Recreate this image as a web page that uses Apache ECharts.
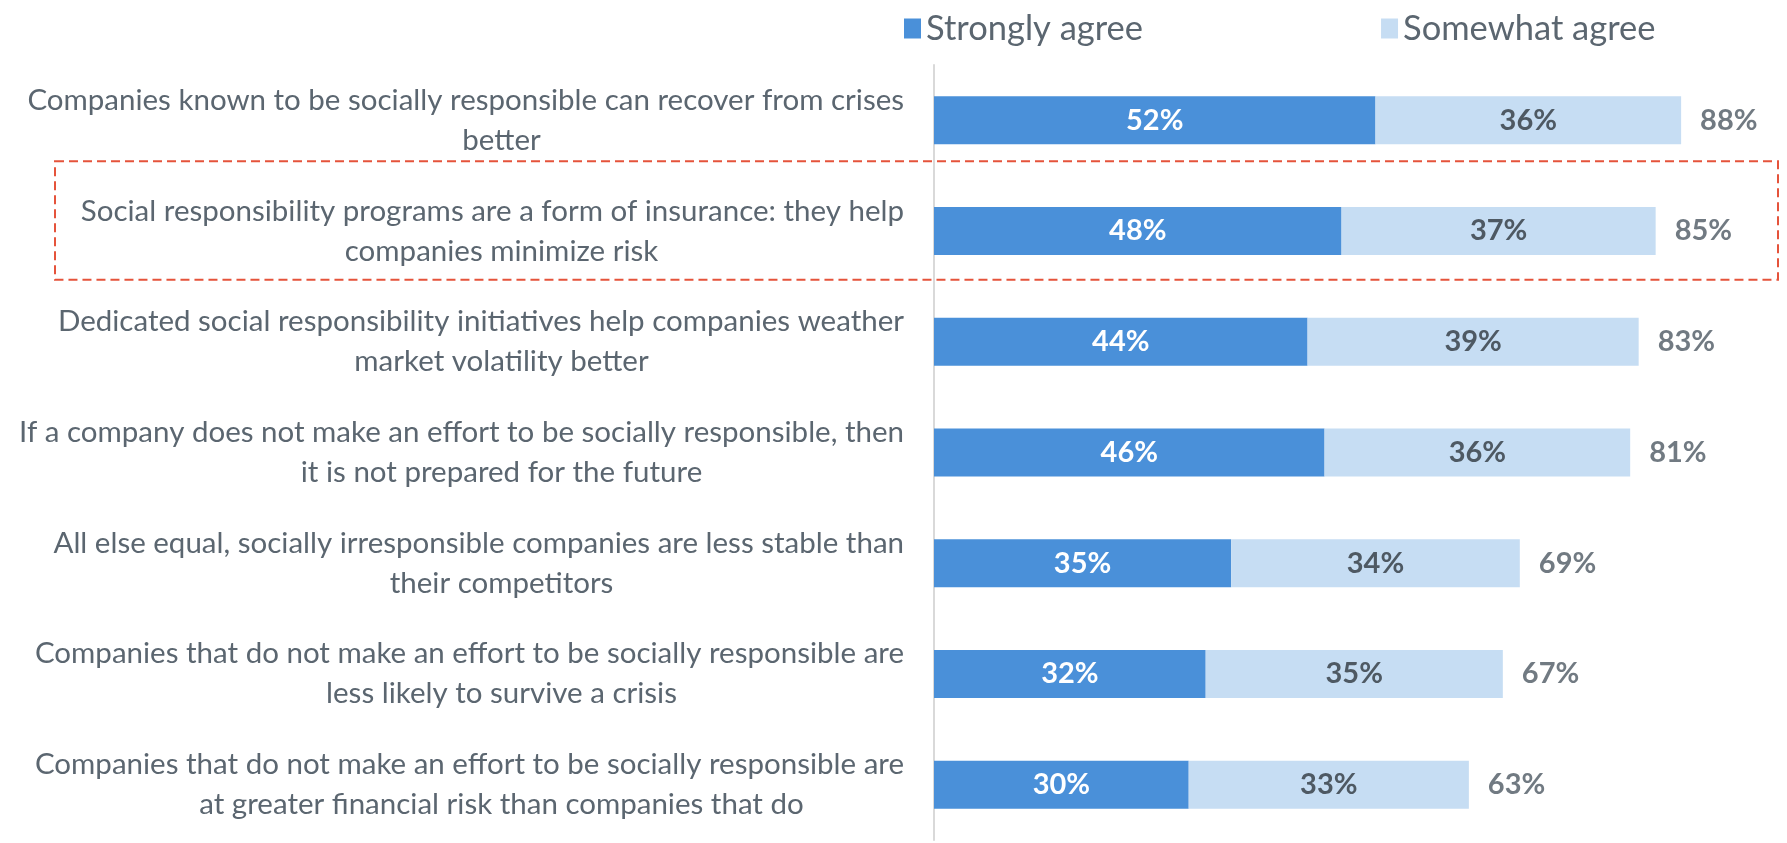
<!DOCTYPE html>
<html>
<head>
<meta charset="utf-8">
<script src="https://cdn.jsdelivr.net/npm/echarts@6/dist/echarts.min.js"></script>
<style>
  html, body { margin: 0; padding: 0; background: #ffffff; }
  #chart { width: 1787px; height: 843px; }
</style>
</head>
<body>
<div id="chart"></div>
<script>
// Survey statements (two lines each, as wrapped on the axis)
const categories = [
  "Companies known to be socially responsible can recover from crises\nbetter",
  "Social responsibility programs are a form of insurance: they help\ncompanies minimize risk",
  "Dedicated social responsibility initiatives help companies weather\nmarket volatility better",
  "If a company does not make an effort to be socially responsible, then\nit is not prepared for the future",
  "All else equal, socially irresponsible companies are less stable than\ntheir competitors",
  "Companies that do not make an effort to be socially responsible are\nless likely to survive a crisis",
  "Companies that do not make an effort to be socially responsible are\nat greater financial risk than companies that do"
];
const stronglyAgree = [52, 48, 44, 46, 35, 32, 30];
const somewhatAgree = [36, 37, 39, 36, 34, 35, 33];
const totalAgree = [88, 85, 83, 81, 69, 67, 63];
const highlightedIndex = 1;

const FONT = 'Lato, "Open Sans", sans-serif';
const TEXT = '#5b6670';
const TOTAL_TEXT = '#4e5963';
const DARK_BLUE = '#4a90d9';
const LIGHT_BLUE = '#c6ddf3';
const LABEL_SIZE = 29.5;
const VALUE_SIZE = 29;

const chart = echarts.init(document.getElementById('chart'));

const option = {
  backgroundColor: '#ffffff',
  animation: false,
  textStyle: { fontFamily: FONT },
  legend: {
    data: ['Strongly agree', 'Somewhat agree'],
    left: 899,
    top: 6,
    icon: 'rect',
    itemWidth: 17,
    itemHeight: 20,
    itemGap: 238,
    textStyle: { fontFamily: FONT, fontSize: 34.5, color: TEXT }
  },
  grid: { left: 934, top: 65, width: 849, height: 775, containLabel: false },
  xAxis: {
    type: 'value', min: 0, max: 100, show: false
  },
  yAxis: {
    type: 'category',
    data: categories,
    inverse: true,
    axisLine: { show: true, lineStyle: { color: '#d9d9d9', width: 2 } },
    axisTick: { show: false },
    splitLine: { show: false },
    axisLabel: {
      margin: 30,
      width: 805,
      overflow: 'none',
      align: 'right',
      fontFamily: FONT,
      fontSize: LABEL_SIZE,
      lineHeight: 40,
      color: TEXT,
      formatter: function (v) {
        const parts = v.split('\n');
        return '{a|' + parts[0] + '}\n{b|' + (parts[1] || '') + '}';
      },
      rich: {
        a: { align: 'right', fontFamily: FONT, fontSize: LABEL_SIZE, lineHeight: 40, color: TEXT },
        b: { align: 'center', fontFamily: FONT, fontSize: LABEL_SIZE, lineHeight: 40, color: TEXT }
      }
    }
  },
  series: [
    {
      name: 'Strongly agree',
      type: 'bar',
      stack: 'agree',
      barWidth: 48,
      data: stronglyAgree,
      itemStyle: { color: DARK_BLUE },
      label: {
        show: true, position: 'inside', formatter: '{c}%',
        color: '#ffffff', fontFamily: FONT, fontWeight: 'bold', fontSize: VALUE_SIZE
      }
    },
    {
      name: 'Somewhat agree',
      type: 'bar',
      stack: 'agree',
      barWidth: 48,
      data: somewhatAgree,
      itemStyle: { color: LIGHT_BLUE },
      label: {
        show: true, position: 'inside', formatter: '{c}%',
        color: TOTAL_TEXT, fontFamily: FONT, fontWeight: 'bold', fontSize: VALUE_SIZE
      }
    },
    {
      // Net agreement printed just past the end of each stacked bar
      name: 'Total',
      type: 'scatter',
      symbolSize: 0,
      silent: true,
      data: categories.map((c, i) => ({
        value: [stronglyAgree[i] + somewhatAgree[i], c],
        total: totalAgree[i]
      })),
      label: {
        show: true, position: 'right', distance: 19,
        formatter: p => p.data.total + '%',
        color: TOTAL_TEXT, fontFamily: FONT, fontWeight: 'bold', fontSize: VALUE_SIZE
      }
    }
  ]
};

chart.setOption(option);

// Dashed call-out box around the highlighted statement
function drawHighlight() {
  const yCenter = chart.convertToPixel({ yAxisIndex: 0 }, categories[highlightedIndex]);
  const yNext = chart.convertToPixel({ yAxisIndex: 0 }, categories[highlightedIndex + 1]);
  const band = yNext - yCenter;
  const top = yCenter - band * 0.63;
  const bottom = yCenter + band * 0.44;
  chart.setOption({
    graphic: [{
      type: 'rect',
      silent: true,
      shape: { x: 55, y: top, width: chart.getWidth() - 9 - 55, height: bottom - top },
      style: { fill: 'none', stroke: '#e5533b', lineWidth: 2, lineDash: [9, 5] },
      z: 10
    }]
  });
}
drawHighlight();
</script>
</body>
</html>
